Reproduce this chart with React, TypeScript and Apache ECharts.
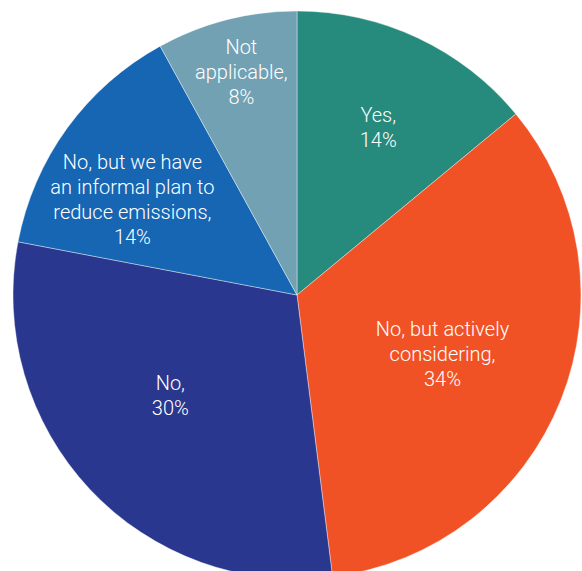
import React, { useEffect, useRef } from "react";
import * as echarts from "echarts";

const categories = [
  "Yes",
  "No, but actively\nconsidering",
  "No",
  "No, but we have\nan informal plan to\nreduce emissions",
  "Not\napplicable",
];
const values = [14, 34, 30, 14, 8];
const colors = ["#268a7c", "#f15225", "#2a378e", "#1666b3", "#72a1b3"];
// label placement: [angle from 12 o'clock clockwise (deg), fraction of radius]
const labelPolar: [number, number][] = [
  [25.9, 0.655],
  [112.1, 0.553],
  [231.5, 0.57],
  [300.1, 0.67],
  [346, 0.81],
];

const CX = 297;
const CY = 295;
const R = 284;

export default function App() {
  const ref = useRef<HTMLDivElement>(null);
  useEffect(() => {
    if (!ref.current) return;
    const chart = echarts.init(ref.current, undefined, { renderer: "svg" });
    chart.setOption({
      animation: false,
      backgroundColor: "#ffffff",
      series: [
        {
          type: "pie",
          center: [CX, CY],
          radius: [0, R],
          startAngle: 90,
          clockwise: true,
          label: {
            show: true,
            position: "inside",
            color: "#ffffff",
            fontFamily: "Roboto",
            fontWeight: 300,
            fontSize: 20,
            lineHeight: 25,
            align: "center",
            formatter: (p: any) => `${p.name},\n${p.value}%`,
          },
          labelLine: { show: false },
          labelLayout: (p: any) => {
            const [ang, f] = labelPolar[p.dataIndex];
            const a = (ang * Math.PI) / 180;
            return {
              x: CX + Math.sin(a) * f * R,
              y: CY - Math.cos(a) * f * R,
              align: "center",
              verticalAlign: "middle",
            };
          },
          itemStyle: { borderColor: "#ffffff", borderWidth: 0.4 },
          emphasis: { disabled: true },
          data: categories.map((c, i) => ({
            name: c,
            value: values[i],
            itemStyle: { color: colors[i] },
          })),
        },
      ],
    });
    return () => chart.dispose();
  }, []);
  return (
    <div
      ref={ref}
      style={{ position: "fixed", left: 0, top: 0, width: 582, height: 571 }}
    />
  );
}
